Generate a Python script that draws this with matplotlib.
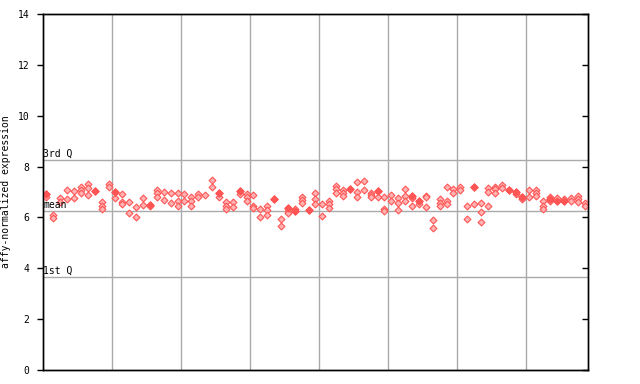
import matplotlib
matplotlib.use("Agg")
import matplotlib.pyplot as plt
import numpy as np

# per-sample values (several probes per sample)
sample_values = [
    [6.91, 6.82], [6.09, 5.97], [6.75, 6.62], [7.08, 6.72], [7.04, 6.78],
    [7.21, 7.08, 6.95], [7.30, 7.14, 6.88], [7.05], [6.62, 6.46, 6.33], [7.33, 7.18],
    [6.99, 6.75], [6.92, 6.62, 6.53], [6.62, 6.16], [6.40, 6.00], [6.78, 6.49],
    [6.49, 6.45], [7.08, 6.95, 6.82], [6.99, 6.69], [6.97, 6.55], [6.95, 6.66, 6.46],
    [6.91, 6.66], [6.79, 6.66, 6.46], [6.91, 6.82], [6.87], [7.46, 7.21],
    [6.98, 6.79], [6.59, 6.46, 6.33], [6.59, 6.40], [7.03, 6.91], [6.92, 6.79, 6.66],
    [6.87, 6.46, 6.38], [6.32, 6.00], [6.45, 6.29, 6.08], [6.71], [5.95, 5.66],
    [6.38, 6.25, 6.19], [6.27, 6.33], [6.82, 6.69, 6.56], [6.30], [6.98, 6.72, 6.52],
    [6.52, 6.06], [6.65, 6.52, 6.38], [7.24, 7.11, 6.98], [7.08, 6.95, 6.84], [7.11],
    [7.39, 6.99, 6.79], [7.45, 7.08], [6.98, 6.88, 6.79], [7.03, 6.82], [6.79, 6.32, 6.25],
    [6.87, 6.63], [6.75, 6.56, 6.30], [7.11, 6.84, 6.63], [6.84, 6.75, 6.45], [6.66, 6.53],
    [6.84, 6.79, 6.40], [5.90, 5.57], [6.72, 6.56, 6.45], [7.21, 6.63, 6.53], [7.11, 6.98],
    [7.21, 7.08], [6.45, 5.93], [7.21, 6.53], [6.56, 6.21, 5.82], [7.14, 7.01, 6.43],
    [7.21, 7.11, 6.95], [7.27, 7.14], [7.08], [7.01, 6.92], [6.79, 6.72],
    [7.08, 6.79], [7.08, 6.95, 6.84], [6.63, 6.43, 6.32], [6.72, 6.79, 6.63], [6.66, 6.75],
    [6.63, 6.72], [6.75, 6.66], [6.84, 6.72, 6.59], [6.56, 6.43],
]
# samples whose first listed point is drawn solid (overlapping probes)
solid_samples = [0, 7, 10, 15, 25, 28, 33, 35, 36, 38, 44, 48, 53, 54, 62, 67, 68, 69, 73, 74, 75]

q3_value = 8.24
mean_value = 6.25
q1_value = 3.64
group_size = 10
y_ticks = [0, 2, 4, 6, 8, 10, 12, 14]

fig = plt.figure(figsize=(6.4, 3.84), dpi=100)
ax = fig.add_axes([43/640, 14/384, 545/640, 356/384])

n = len(sample_values)
xs, ys = [], []
for i, vals in enumerate(sample_values):
    for v in vals:
        xs.append(i)
        ys.append(v)
ax.scatter(xs, ys, marker="D", s=12, facecolor="#ffb3b3", edgecolor="#ff5555",
           linewidths=0.8, zorder=3)
sx = solid_samples
sy = [sample_values[i][0] for i in solid_samples]
ax.scatter(sx, sy, marker="D", s=14, facecolor="#ff5555", edgecolor="#ff5555",
           linewidths=0.8, zorder=4)

for b in np.arange(group_size - 0.5, n - 1, group_size):
    ax.axvline(b, color="#aaaaaa", lw=1, zorder=1)
for v in (q3_value, mean_value, q1_value):
    ax.axhline(v, color="#aaaaaa", lw=1, zorder=1)

mono = "DejaVu Sans Mono"
ax.text(-0.45, q3_value + 0.05, "3rd Q", fontsize=7, family=mono, va="bottom", ha="left")
ax.text(-0.45, mean_value + 0.05, "mean", fontsize=7, family=mono, va="bottom", ha="left")
ax.text(-0.45, q1_value + 0.05, "1st Q", fontsize=7, family=mono, va="bottom", ha="left")

ax.set_xlim(-0.5, n - 0.5)
ax.set_ylim(0, 14)
ax.set_yticks(y_ticks)
ax.set_yticklabels([str(t) for t in y_ticks], fontsize=7, family=mono)
ax.set_xticks([])
ax.tick_params(axis="y", direction="out", length=4, width=1, pad=6)
ax.set_ylabel("affy-normalized expression", fontsize=7, family=mono)
ax.yaxis.set_label_coords(-0.058, 0.5)

ax2 = ax.twinx()
ax2.set_ylim(0, 14)
ax2.set_yticks(y_ticks)
ax2.set_yticklabels([])
ax2.tick_params(axis="y", direction="in", length=4, width=1)

for a in (ax, ax2):
    for s in a.spines.values():
        s.set_linewidth(1)
        s.set_color("black")

fig.savefig("out.png", dpi=100)
